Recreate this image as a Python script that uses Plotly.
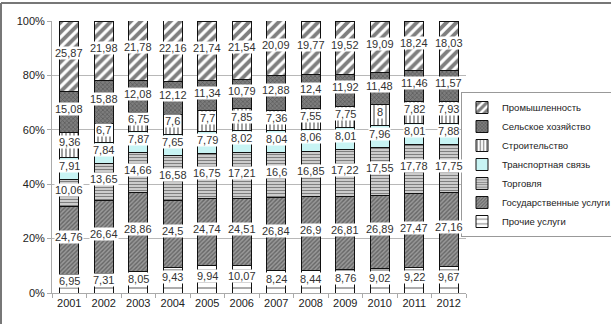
import plotly.graph_objects as go

years = ["2001", "2002", "2003", "2004", "2005", "2006", "2007", "2008", "2009", "2010", "2011", "2012"]

prochie = [6.95, 7.31, 8.05, 9.43, 9.94, 10.07, 8.24, 8.44, 8.76, 9.02, 9.22, 9.67]
gos = [24.76, 26.64, 28.86, 24.5, 24.74, 24.51, 26.84, 26.9, 26.81, 26.89, 27.47, 27.16]
torgovlya = [10.06, 13.65, 14.66, 16.58, 16.75, 17.21, 16.6, 16.85, 17.22, 17.55, 17.78, 17.75]
transport = [7.91, 7.84, 7.87, 7.65, 7.79, 8.02, 8.04, 8.06, 8.01, 7.96, 8.01, 7.88]
stroit = [9.36, 6.7, 6.75, 7.6, 7.7, 7.85, 7.36, 7.55, 7.75, 8, 7.82, 7.93]
selsk = [15.08, 15.88, 12.08, 12.12, 11.34, 10.79, 12.88, 12.4, 11.92, 11.48, 11.46, 11.57]
prom = [25.87, 21.98, 21.78, 22.16, 21.74, 21.54, 20.09, 19.77, 19.52, 19.09, 18.24, 18.03]

y_ticks = [0, 20, 40, 60, 80, 100]
y_ticktext = ["0%", "20%", "40%", "60%", "80%", "100%"]

series = [
    ("Прочие услуги", prochie, dict(shape="-", fgcolor="#222", bgcolor="white", size=6, solidity=0.25)),
    ("Государственные услуги", gos, dict(shape="/", fgcolor="#333", bgcolor="#999", size=3, solidity=0.45)),
    ("Торговля", torgovlya, dict(shape="-", fgcolor="#000", bgcolor="white", size=3, solidity=0.6)),
    ("Транспортная связь", transport, None),
    ("Строительство", stroit, dict(shape="|", fgcolor="#111", bgcolor="white", size=4, solidity=0.4)),
    ("Сельское хозяйство", selsk, dict(shape="x", fgcolor="#333", bgcolor="#7d7d7d", size=3, solidity=0.4)),
    ("Промышленность", prom, dict(shape="/", fgcolor="#000", bgcolor="white", size=7, solidity=0.55)),
]

xpos = list(range(len(years)))
bounds = [i - 0.5 for i in range(len(years) + 1)]

def fmt(v):
    return ("%g" % v).replace(".", ",")

fig = go.Figure()
for name, vals, pat in series:
    marker = dict(line=dict(color="#111", width=1))
    if pat is None:
        marker["color"] = "#c8f4f4"
    else:
        marker["color"] = pat["bgcolor"]
        marker["pattern"] = pat
    fig.add_trace(go.Bar(x=xpos, y=vals, name=name, marker=marker, width=0.55))

annotations = []
cum = [0.0] * len(years)
for name, vals, pat in series:
    for i, v in enumerate(vals):
        annotations.append(dict(
            x=xpos[i], y=cum[i] + v / 2, xref="x", yref="y",
            text=fmt(v), showarrow=False, bgcolor="white",
            font=dict(family="Liberation Sans, Arial", size=11, color="#333"),
            borderpad=0, yshift=3,
        ))
        cum[i] += v

ML, MR, MT, MB = 52, 145, 21, 31
PW = 611 - ML - MR
PH = 324 - MT - MB
x_left = (1 - ML) / PW
y_top = (324 - MB - 3) / PH
shapes = [
    dict(type="line", xref="paper", yref="paper", x0=x_left, x1=(611 - ML) / PW, y0=y_top, y1=y_top,
         line=dict(color="#777", width=2)),
    dict(type="line", xref="paper", yref="paper", x0=x_left, x1=x_left, y0=-MB / PH, y1=y_top,
         line=dict(color="#777", width=2)),
]

fig.update_layout(
    width=611, height=324,
    margin=dict(l=ML, r=MR, t=MT, b=MB, autoexpand=False),
    barmode="stack",
    plot_bgcolor="white", paper_bgcolor="white",
    font=dict(family="Liberation Sans, Arial", size=11, color="#333"),
    annotations=annotations,
    shapes=shapes,
    legend=dict(
        x=(461 - ML) / PW, y=(324 - MB - 92) / PH, xanchor="left", yanchor="top",
        traceorder="reversed", bordercolor="#999", borderwidth=1, bgcolor="white",
        font=dict(size=9.5, color="#222"), tracegroupgap=0, itemwidth=30,
    ),
    xaxis=dict(range=[-0.5, len(years) - 0.5], tickvals=xpos, ticktext=years,
               showgrid=False, showline=True, linecolor="#aaa",
               ticks="", tickfont=dict(size=11, color="#222"), zeroline=False,
               minor=dict(tickvals=bounds, ticks="outside", ticklen=4, tickcolor="#aaa", showgrid=False)),
    yaxis=dict(range=[0, 100], tickvals=y_ticks, ticktext=y_ticktext,
               showgrid=True, gridcolor="#b8b8b8", showline=True, linecolor="#aaa",
               ticks="outside", ticklen=4, tickcolor="#aaa", zeroline=False,
               tickfont=dict(size=11, color="#222")),
)

fig.write_html("out.html")
